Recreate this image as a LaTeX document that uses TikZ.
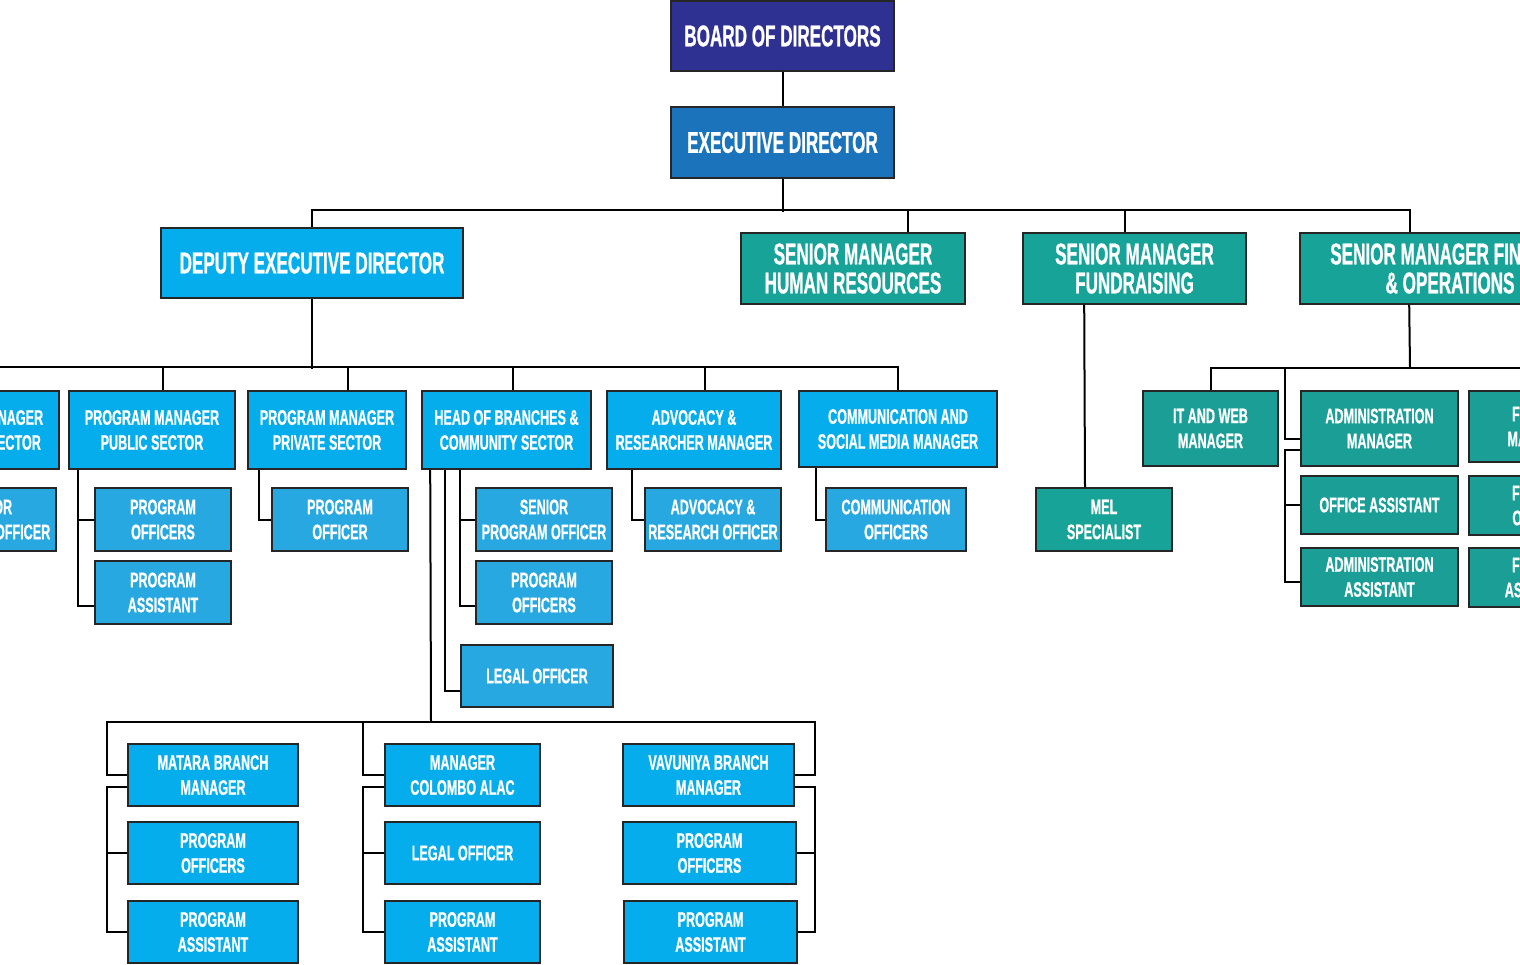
\documentclass[tikz,border=0pt]{standalone}
\usepackage{fontspec}
\newfontfamily\orgfont{Liberation Sans}[FakeStretch=0.57, FakeBold=0.8]
\newfontfamily\unitfont{Liberation Sans}[FakeStretch=0.6, FakeBold=0.8]

\definecolor{boardblue}{HTML}{2E3192}
\definecolor{execblue}{HTML}{1B74BB}
\definecolor{unitcyan}{HTML}{06ADEC}
\definecolor{staffcyan}{HTML}{27A8E0}
\definecolor{seniorteal}{HTML}{17A398}
\definecolor{opsteal}{HTML}{1A9E96}

\tikzset{
	box/.style={draw=black!85, line width=1.6pt, text=white, align=center, inner sep=0pt},
	bigbox/.style={box, font=\orgfont\bfseries\fontsize{30}{29}\selectfont},
	smallbox/.style={box, font=\unitfont\bfseries\fontsize{21}{25}\selectfont},
	link/.style={line width=2pt, black}
}

\begin{document}
\begin{tikzpicture}[x=1pt, y=-1pt]

	\useasboundingbox (0,0) rectangle (1520,964);
	\clip (0,0) rectangle (1520,964);

	\node[bigbox, fill=boardblue, minimum width=223pt, minimum height=70pt] (board) at (782.5,36) {BOARD OF DIRECTORS};
	\node[bigbox, fill=execblue, minimum width=223pt, minimum height=71pt] (exec) at (782.5,142.5) {EXECUTIVE DIRECTOR};
	\node[bigbox, fill=unitcyan, minimum width=302pt, minimum height=70pt] (deputy) at (312,263) {DEPUTY EXECUTIVE DIRECTOR};
	\node[bigbox, fill=seniorteal, minimum width=224pt, minimum height=71pt] (hr) at (853,268.5) {SENIOR MANAGER\\HUMAN RESOURCES};
	\node[bigbox, fill=seniorteal, minimum width=223pt, minimum height=71pt] (fund) at (1134.5,268.5) {SENIOR MANAGER\\FUNDRAISING};
	\node[bigbox, fill=seniorteal, minimum width=300pt, minimum height=71pt] (fin) at (1450,268.5) {SENIOR MANAGER FINANCE\\\& OPERATIONS};

	\node[smallbox, fill=unitcyan, minimum width=166pt, minimum height=78pt] (pmx) at (-24,430) {PROGRAM MANAGER\\EDUCATION SECTOR};
	\node[smallbox, fill=unitcyan, minimum width=166pt, minimum height=78pt] (pmpub) at (152,430) {PROGRAM MANAGER\\PUBLIC SECTOR};
	\node[smallbox, fill=unitcyan, minimum width=158pt, minimum height=78pt] (pmpriv) at (327,430) {PROGRAM MANAGER\\PRIVATE SECTOR};
	\node[smallbox, fill=unitcyan, minimum width=169pt, minimum height=78pt] (head) at (506.5,430) {HEAD OF BRANCHES \&\\COMMUNITY SECTOR};
	\node[smallbox, fill=unitcyan, minimum width=174pt, minimum height=78pt] (adv) at (694,430) {ADVOCACY \&\\RESEARCHER MANAGER};
	\node[smallbox, fill=unitcyan, minimum width=198pt, minimum height=76pt] (comm) at (898,429) {COMMUNICATION AND\\SOCIAL MEDIA MANAGER};

	\node[smallbox, fill=staffcyan, minimum width=136pt, minimum height=63pt] (spox) at (-12,519.5) {SENIOR\\PROGRAM OFFICER};
	\node[smallbox, fill=staffcyan, minimum width=136pt, minimum height=63pt] (po1) at (163,519.5) {PROGRAM\\OFFICERS};
	\node[smallbox, fill=staffcyan, minimum width=136pt, minimum height=63pt] (pa1) at (163,592.5) {PROGRAM\\ASSISTANT};
	\node[smallbox, fill=staffcyan, minimum width=136pt, minimum height=63pt] (po2) at (340,519.5) {PROGRAM\\OFFICER};
	\node[smallbox, fill=staffcyan, minimum width=136pt, minimum height=63pt] (spo) at (544,519.5) {SENIOR\\PROGRAM OFFICER};
	\node[smallbox, fill=staffcyan, minimum width=136pt, minimum height=63pt] (po3) at (544,592.5) {PROGRAM\\OFFICERS};
	\node[smallbox, fill=staffcyan, minimum width=152pt, minimum height=62pt] (legal1) at (537,676) {LEGAL OFFICER};
	\node[smallbox, fill=staffcyan, minimum width=136pt, minimum height=63pt] (aro) at (713,519.5) {ADVOCACY \&\\RESEARCH OFFICER};
	\node[smallbox, fill=staffcyan, minimum width=140pt, minimum height=63pt] (cof) at (896,519.5) {COMMUNICATION\\OFFICERS};
	\node[smallbox, fill=seniorteal, minimum width=136pt, minimum height=63pt] (mel) at (1104,519.5) {MEL\\SPECIALIST};

	\node[smallbox, fill=opsteal, minimum width=135pt, minimum height=75pt] (it) at (1210.5,428.5) {IT AND WEB\\MANAGER};
	\node[smallbox, fill=opsteal, minimum width=157pt, minimum height=75pt] (adm) at (1379.5,428.5) {ADMINISTRATION\\MANAGER};
	\node[smallbox, fill=opsteal, minimum width=157pt, minimum height=58pt] (offa) at (1379.5,505) {OFFICE ASSISTANT};
	\node[smallbox, fill=opsteal, minimum width=157pt, minimum height=58pt] (adma) at (1379.5,577) {ADMINISTRATION\\ASSISTANT};
	\node[smallbox, fill=opsteal, minimum width=142pt, minimum height=71pt] (finm) at (1540,426.5) {FINANCE\\MANAGER};
	\node[smallbox, fill=opsteal, minimum width=142pt, minimum height=59pt] (fino) at (1540,505.5) {FINANCE\\OFFICER};
	\node[smallbox, fill=opsteal, minimum width=142pt, minimum height=59pt] (fina) at (1540,577.5) {FINANCE\\ASSISTANT};

	\node[smallbox, fill=unitcyan, minimum width=170pt, minimum height=62pt] (matara) at (213,775) {MATARA BRANCH\\MANAGER};
	\node[smallbox, fill=unitcyan, minimum width=170pt, minimum height=62pt] (po4) at (213,853) {PROGRAM\\OFFICERS};
	\node[smallbox, fill=unitcyan, minimum width=170pt, minimum height=62pt] (pa4) at (213,932) {PROGRAM\\ASSISTANT};
	\node[smallbox, fill=unitcyan, minimum width=155pt, minimum height=62pt] (colombo) at (462.5,775) {MANAGER\\COLOMBO ALAC};
	\node[smallbox, fill=unitcyan, minimum width=155pt, minimum height=62pt] (legal2) at (462.5,853) {LEGAL OFFICER};
	\node[smallbox, fill=unitcyan, minimum width=155pt, minimum height=62pt] (pa5) at (462.5,932) {PROGRAM\\ASSISTANT};
	\node[smallbox, fill=unitcyan, minimum width=171pt, minimum height=62pt] (vav) at (708.5,775) {VAVUNIYA BRANCH\\MANAGER};
	\node[smallbox, fill=unitcyan, minimum width=173pt, minimum height=62pt] (po5) at (709.5,853) {PROGRAM\\OFFICERS};
	\node[smallbox, fill=unitcyan, minimum width=173pt, minimum height=62pt] (pa6) at (710.5,932) {PROGRAM\\ASSISTANT};

	\coordinate (finbus) at (1410,368);
	\coordinate (bbus) at (431,722);

	\draw[link] (board) -- (exec);
	\draw[link] (exec.south) -- ++(0,-33pt);
	\draw[link] (deputy.north) -- ++(0,17pt) -| ([xshift=-40pt]fin.north);
	\draw[link] ([xshift=55pt]hr.north) -- ++(0,22pt);
	\draw[link] ([xshift=-9.5pt]fund.north) -- ++(0,22pt);

	\draw[link] (deputy.south) -- ++(0,-70pt);
	\draw[link] (pmx.north) -- ++(0,23pt) -| (comm.north);
	\draw[link] ([xshift=11pt]pmpub.north) -- ++(0,23pt);
	\draw[link] ([xshift=21pt]pmpriv.north) -- ++(0,23pt);
	\draw[link] ([xshift=6.5pt]head.north) -- ++(0,23pt);
	\draw[link] ([xshift=11pt]adv.north) -- ++(0,23pt);

	\draw[link] ([xshift=10pt]pmpub.south west) |- (po1.west);
	\draw[link] ([xshift=10pt]pmpub.south west) |- ([yshift=-13.5pt]pa1.west);
	\draw[link] ([xshift=12pt]pmpriv.south west) |- (po2.west);
	\draw[link] ([xshift=39pt]head.south west) |- (spo.west);
	\draw[link] ([xshift=39pt]head.south west) |- ([yshift=-13.5pt]po3.west);
	\draw[link] ([xshift=24pt]head.south west) |- ([yshift=-15pt]legal1.west);
	\draw[link] ([xshift=9pt]head.south west) -- (bbus);
	\draw[link] ([xshift=26pt]adv.south west) |- (aro.west);
	\draw[link] ([xshift=18pt]comm.south west) |- (cof.west);
	\draw[link] ([xshift=62pt]fund.south west) -- ([xshift=-19pt]mel.north);

	\draw[link] ([xshift=110pt]fin.south west) -- (finbus);
	\draw[link] (it.north) |- (finbus) -- ++(130pt,0);
	\draw[link] ([yshift=-10pt]adm.west) -- ++(-15pt,0) |- (finbus);
	\draw[link] ([yshift=-21pt]adm.west) -- ++(-15pt,0) |- (offa.west);
	\draw[link] ([yshift=-21pt]adm.west) -- ++(-15pt,0) |- ([yshift=-5pt]adma.west);

	\draw[link] (matara.west) -- ++(-20pt,0) |- (bbus) -| ([xshift=20pt]vav.east) -- (vav.east);
	\draw[link] (colombo.west) -- ++(-21pt,0) |- (bbus);
	\draw[link] ([yshift=-12pt]matara.west) -- ++(-20pt,0) |- (po4.west);
	\draw[link] ([yshift=-12pt]matara.west) -- ++(-20pt,0) |- (pa4.west);
	\draw[link] ([yshift=-12pt]colombo.west) -- ++(-21pt,0) |- (legal2.west);
	\draw[link] ([yshift=-12pt]colombo.west) -- ++(-21pt,0) |- (pa5.west);
	\draw[link] ([yshift=-12pt]vav.east) -- ++(20pt,0) |- (po5.east);
	\draw[link] ([yshift=-12pt]vav.east) -- ++(20pt,0) |- (pa6.east);

\end{tikzpicture}
\end{document}
